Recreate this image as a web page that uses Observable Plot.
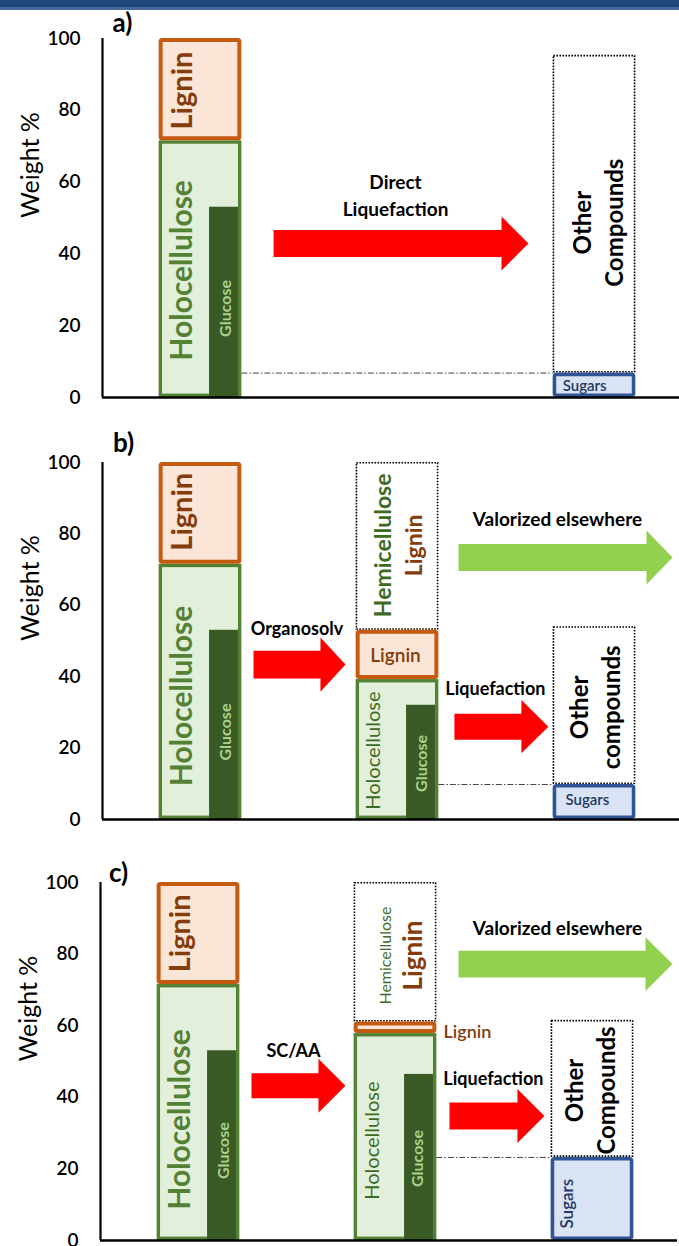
<!DOCTYPE html>
<html><head><meta charset="utf-8">
<script src="https://cdn.jsdelivr.net/npm/d3@7"></script>
<script src="https://cdn.jsdelivr.net/npm/@observablehq/plot@0.6"></script>
<style>
body{margin:0;background:#fff;width:679px;height:1246px;overflow:hidden;position:relative;}
#band{position:absolute;left:0;top:0;width:679px;height:10px;background:linear-gradient(#1F497D 0 70%, #46699A 70% 100%);}
#chart svg{display:block;}
</style></head><body><div id="chart"></div><div id="band"></div>
<script>
// ---------------- DATA ----------------
const stages = ["Raw biomass", "Pretreated solid", "Liquefaction products"];
const panelLabels = ["a)", "b)", "c)"];
const processNames = ["Direct\nLiquefaction", "Organosolv", "SC/AA"];
const rawHolocellulose = [71.5, 71.5, 71.5];
const rawLignin = [28.5, 28.5, 28.5];
const rawGlucose = [53, 53, 53];
const solidHolocellulose = [null, 39.2, 57.8];
const solidLignin = [null, 13.8, 3.2];
const solidGlucose = [null, 32, 46.4];
const valorizedElsewhere = [null, 47, 39];
const sugars = [6.8, 9.8, 23.2];
const otherCompounds = [88.5, 44.2, 38.3];
const yTicks = [0, 20, 40, 60, 80, 100];

// ---------------- LAYOUT ----------------
const FONT = "Lato, 'Open Sans', 'Noto Sans', sans-serif";
const HW = 0.21; // half width of a column (column units)
const C = {
  lignFill: "#FBE5D6", lignStroke: "#C55A11", lignText: "#843C0C",
  holoFill: "#E2EFDA", holoStroke: "#548235", holoText: "#548235", holoText2: "#3D6B23",
  gluFill: "#3A5A25", gluText: "#A9D18E",
  sugFill: "#DAE3F3", sugStroke: "#2F5597", sugText: "#1F3864",
  red: "#FF0000", green: "#92D050"
};
const layout = [
  {height: 421, marginTop: 38, marginBottom: 24, marginLeft: 102, marginRight: 0},
  {height: 421, marginTop: 41, marginBottom: 23, marginLeft: 102, marginRight: 0},
  {height: 404, marginTop: 40, marginBottom: 6, marginLeft: 100, marginRight: 2}
];
const xDomain = [-0.4975, 2.4315];

const arrows = [
  [{c: "red", x1: 0.371, x2: 1.665, y: 42.9, shaft: 3.76, head: 7.5, len: 0.137}],
  [{c: "red", x1: 0.269, x2: 0.736, y: 43.4, shaft: 3.9, head: 7.6, len: 0.127},
   {c: "red", x1: 1.289, x2: 1.766, y: 26.0, shaft: 3.65, head: 7.45, len: 0.137},
   {c: "green", x1: 1.31, x2: 2.396, y: 73.4, shaft: 3.78, head: 7.56, len: 0.132}],
  [{c: "red", x1: 0.269, x2: 0.746, y: 43.2, shaft: 3.5, head: 7.55, len: 0.137},
   {c: "red", x1: 1.274, x2: 1.756, y: 34.8, shaft: 3.77, head: 7.54, len: 0.137},
   {c: "green", x1: 1.32, x2: 2.406, y: 77.2, shaft: 3.77, head: 7.54, len: 0.137}]
];

const R = -90;
const texts = [
  [
    {t: panelLabels[0], x: -0.396, y: 104.2, s: 26, w: 700, f: "#000"},
    {t: "Lignin", x: -0.091, y: 85.5, s: 29, w: 700, f: C.lignText, r: R},
    {t: "Holocellulose", x: -0.091, y: 35.4, s: 30, w: 700, f: C.holoText, r: R},
    {t: "Glucose", x: 0.127, y: 24.8, s: 16, w: 700, f: C.gluText, r: R},
    {t: processNames[0], x: 0.99, y: 56.6, s: 19, w: 700, f: "#000", lh: 1.42},
    {t: "Other\nCompounds", x: 2.01, y: 48.7, s: 24, w: 700, f: "#000", r: R, lh: 1.33},
    {t: "Sugars", x: 1.95, y: 3.1, s: 15, w: 600, f: C.sugText}
  ],
  [
    {t: panelLabels[1], x: -0.39, y: 105.3, s: 26, w: 700, f: "#000"},
    {t: "Lignin", x: -0.091, y: 86.2, s: 29, w: 700, f: C.lignText, r: R},
    {t: "Holocellulose", x: -0.091, y: 34.6, s: 30, w: 700, f: C.holoText, r: R},
    {t: "Glucose", x: 0.127, y: 24.5, s: 16, w: 700, f: C.gluText, r: R},
    {t: "Hemicellulose", x: 0.929, y: 76.8, s: 23, w: 700, f: C.holoText2, r: R},
    {t: "Lignin", x: 1.086, y: 76.8, s: 23, w: 700, f: C.lignText, r: R},
    {t: "Lignin", x: 0.99, y: 45.7, s: 19, w: 600, f: C.lignText},
    {t: "Holocellulose", x: 0.878, y: 19.3, s: 20, w: 400, f: C.holoText2, r: R},
    {t: "Glucose", x: 1.122, y: 15.7, s: 16, w: 700, f: C.gluText, r: R},
    {t: processNames[1], x: 0.49, y: 53.2, s: 18, w: 700, f: "#000"},
    {t: "Liquefaction", x: 1.497, y: 36.4, s: 18, w: 700, f: "#000"},
    {t: "Valorized elsewhere", x: 1.812, y: 83.8, s: 19, w: 700, f: "#000"},
    {t: "Other\ncompounds", x: 1.998, y: 31.4, s: 24, w: 700, f: "#000", r: R, lh: 1.33},
    {t: "Sugars", x: 1.964, y: 5.3, s: 15, w: 600, f: C.sugText}
  ],
  [
    {t: panelLabels[2], x: -0.406, y: 102.4, s: 26, w: 700, f: "#000"},
    {t: "Lignin", x: -0.091, y: 85.8, s: 29, w: 700, f: C.lignText, r: R},
    {t: "Holocellulose", x: -0.091, y: 33.8, s: 30, w: 700, f: C.holoText, r: R},
    {t: "Glucose", x: 0.127, y: 25.1, s: 16, w: 700, f: C.gluText, r: R},
    {t: "Hemicellulose", x: 0.949, y: 79.6, s: 16, w: 400, f: C.holoText2, r: R},
    {t: "Lignin", x: 1.091, y: 79.6, s: 26, w: 700, f: C.lignText, r: R},
    {t: "Lignin", x: 1.244, y: 58.1, s: 18, w: 600, f: C.lignText, a: "start"},
    {t: "Holocellulose", x: 0.883, y: 27.9, s: 20, w: 400, f: C.holoText2, r: R},
    {t: "Glucose", x: 1.112, y: 22.9, s: 16, w: 700, f: C.gluText, r: R},
    {t: processNames[2], x: 0.482, y: 52.8, s: 18, w: 700, f: "#000"},
    {t: "Liquefaction", x: 1.497, y: 45, s: 18, w: 700, f: "#000"},
    {t: "Valorized elsewhere", x: 1.822, y: 86.9, s: 19, w: 700, f: "#000"},
    {t: "Other\nCompounds", x: 1.982, y: 41.9, s: 24, w: 700, f: "#000", r: R, lh: 1.33},
    {t: "Sugars", x: 1.873, y: 10.3, s: 17, w: 600, f: C.sugText, r: R}
  ]
];

// ---------------- BUILD ----------------
function arrowPts(a, id) {
  const xh = a.x2 - a.len;
  return [[a.x1, a.y - a.shaft], [xh, a.y - a.shaft], [xh, a.y - a.head], [a.x2, a.y],
          [xh, a.y + a.head], [xh, a.y + a.shaft], [a.x1, a.y + a.shaft]]
    .map(([x, y]) => ({id, x, y}));
}

function panel(i) {
  const L = layout[i];
  const holo = [{col: 0, y1: 0, y2: rawHolocellulose[i]}];
  const glu = [{col: 0, y1: 0, y2: rawGlucose[i]}];
  const lig = [{col: 0, y1: rawHolocellulose[i], y2: rawHolocellulose[i] + rawLignin[i]}];
  const dotted = [];
  let srcCol = 0;
  if (solidHolocellulose[i] != null) {
    srcCol = 1;
    const top = solidHolocellulose[i] + solidLignin[i];
    holo.push({col: 1, y1: 0, y2: solidHolocellulose[i]});
    glu.push({col: 1, y1: 0, y2: solidGlucose[i]});
    lig.push({col: 1, y1: solidHolocellulose[i], y2: top});
    dotted.push({col: 1, y1: top, y2: top + valorizedElsewhere[i]});
  }
  dotted.push({col: 2, y1: sugars[i], y2: sugars[i] + otherCompounds[i]});
  const sug = [{col: 2, y1: 0, y2: sugars[i]}];
  const guide = [{y: sugars[i], x1: srcCol + HW, x2: 2 - HW}];
  const redPts = [], greenPts = [];
  arrows[i].forEach((a, k) => (a.c === "red" ? redPts : greenPts).push(...arrowPts(a, k)));

  const textMarks = texts[i].map(d => Plot.text([d], {
    x: "x", y: "y", text: "t", fill: d.f, fontSize: d.s, fontWeight: d.w,
    rotate: d.r || 0, textAnchor: d.a || "middle", lineAnchor: "middle",
    lineHeight: d.lh || 1, fontFamily: FONT
  }));

  return Plot.plot({
    width: 679, height: L.height,
    marginTop: L.marginTop, marginBottom: L.marginBottom,
    marginLeft: L.marginLeft, marginRight: L.marginRight,
    style: {fontFamily: FONT, fontSize: "19px", fontWeight: 600, color: "#000", background: "#fff", overflow: "visible"},
    x: {domain: xDomain, axis: null},
    y: {domain: [0, 100], ticks: yTicks, tickSize: 0, tickPadding: 22, label: null, tickFormat: d3.format("d")},
    marks: [
      Plot.rect(dotted, {x1: d => d.col - HW, x2: d => d.col + HW, y1: "y1", y2: "y2",
        fill: "none", stroke: "#000", strokeWidth: 1.6, strokeDasharray: "1.6 1.4", inset: 0.8}),
      Plot.rect(holo, {x1: d => d.col - HW, x2: d => d.col + HW, y1: "y1", y2: "y2",
        fill: C.holoFill, stroke: C.holoStroke, strokeWidth: 3.4, inset: 1.7}),
      Plot.rect(glu, {x1: d => d.col + 0.046, x2: d => d.col + HW, y1: "y1", y2: "y2",
        fill: C.gluFill, insetRight: 3.4}),
      Plot.rect(lig, {x1: d => d.col - HW, x2: d => d.col + HW, y1: "y1", y2: "y2",
        fill: C.lignFill, stroke: C.lignStroke, strokeWidth: 4, inset: 2, rx: 1.5}),
      Plot.rect(sug, {x1: d => d.col - HW, x2: d => d.col + HW, y1: "y1", y2: "y2",
        fill: C.sugFill, stroke: C.sugStroke, strokeWidth: 3.6, inset: 1.8, rx: 2}),
      Plot.ruleY(guide, {y: "y", x1: "x1", x2: "x2", stroke: "#444", strokeWidth: 1, strokeDasharray: "6 2 1.5 2"}),
      Plot.line(redPts, {x: "x", y: "y", z: "id", fill: C.red, stroke: "none", curve: "linear-closed"}),
      Plot.line(greenPts, {x: "x", y: "y", z: "id", fill: C.green, stroke: "none", curve: "linear-closed"}),
      ...textMarks,
      Plot.text(["Weight %"], {frameAnchor: "left", dx: -72, rotate: -90, fontSize: 25,
        fontWeight: 400, fontFamily: FONT, fill: "#000"}),
      Plot.ruleX([xDomain[0]], {y1: 0, y2: 100, stroke: "#000", strokeWidth: 2.2}),
      Plot.ruleY([0], {stroke: "#000", strokeWidth: 2.6})
    ]
  });
}

const root = document.getElementById("chart");
[0, 1, 2].forEach(i => root.appendChild(panel(i)));
</script></body></html>
